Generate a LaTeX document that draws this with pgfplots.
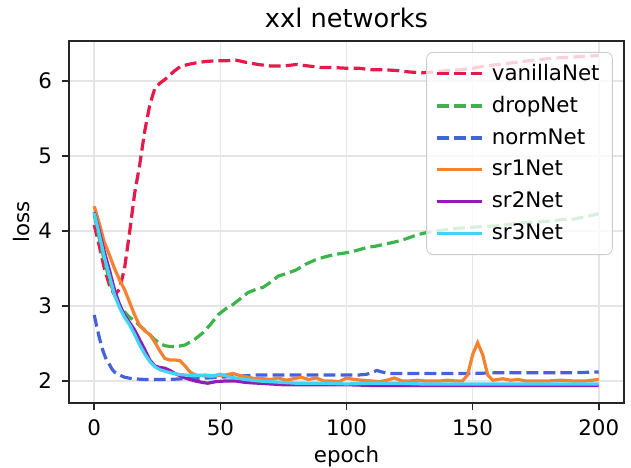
\documentclass[border=0pt]{standalone}
\usepackage{fontspec}
\setmainfont{DejaVu Sans}
\usepackage{pgfplots}
\pgfplotsset{compat=1.18}

\definecolor{cvan}{HTML}{E6194B}
\definecolor{cdrop}{HTML}{3CB44B}
\definecolor{cnorm}{HTML}{4363D8}
\definecolor{csra}{HTML}{F58231}
\definecolor{csrb}{HTML}{911EB4}
\definecolor{csrc}{HTML}{42D4F4}

\begin{document}
\begin{tikzpicture}
\begin{axis}[
    scale only axis,
    width=259.6pt, height=169.3pt,
    xmin=-10, xmax=210, ymin=1.707, ymax=6.533,
    xtick={0,50,100,150,200}, ytick={2,3,4,5,6},
    xtick pos=bottom, ytick pos=left,
    tick align=outside, major tick length=3.5pt,
    axis line style={line width=0.8pt, black!85},
    tick style={line width=0.8pt, black!85},
    grid=major, major grid style={line width=0.8pt, black!10},
    /pgf/number format/assume math mode=true,
    ticklabel style={font=\fontsize{10}{12}\selectfont},
    xticklabel style={yshift=-1pt},
    yticklabel style={xshift=-1pt},
    title={xxl networks},
    every axis title/.style={font=\fontsize{12}{14}\selectfont, at={(0.5,1)}, anchor=base, yshift=6.5pt},
    xlabel={epoch}, ylabel={loss},
    label style={font=\fontsize{10}{12}\selectfont},
    every axis x label/.style={at={(0.5,0)}, anchor=base, yshift=-28pt},
    every axis y label/.style={at={(0,0.5)}, anchor=center, rotate=90, yshift=22pt},
    legend style={at={(0.98,0.97)}, anchor=north east, draw=black!20,
        rounded corners=3pt, fill=white, fill opacity=0.8, text opacity=1,
        font=\fontsize{10}{12}\selectfont, row sep=2pt,
        inner xsep=4pt, inner ysep=3.5pt},
    legend cell align=left,
    legend image code/.code={\draw[#1] (0pt,0pt) -- (21pt,0pt); \path (23pt,0pt);},
    every axis plot/.append style={line width=1.5pt},
    dsh/.style={dash pattern=on 5.55pt off 2.4pt},
]
\addplot[cvan, dsh] coordinates {
(0,4.08)(2,3.8)(4,3.5)(6,3.28)(8,3.15)(10,3.22)(12,3.5)(14,3.98)(16,4.5)(18,4.88)
(20,5.33)(22,5.68)(24,5.9)(26,5.97)(28,6.02)(30,6.08)(32,6.14)(34,6.19)(37,6.22)(40,6.24)
(44,6.26)(48,6.27)(52,6.27)(56,6.28)(60,6.25)(65,6.22)(70,6.2)(75,6.2)(80,6.22)(85,6.2)
(90,6.18)(95,6.18)(100,6.17)(105,6.17)(110,6.15)(115,6.15)(120,6.14)(125,6.12)(130,6.11)
(135,6.12)(140,6.14)(145,6.15)(150,6.17)(155,6.2)(160,6.22)(165,6.24)(170,6.26)(175,6.28)
(180,6.3)(185,6.31)(190,6.32)(195,6.33)(200,6.34)};
\addlegendentry{vanillaNet}
\addplot[cdrop, dsh] coordinates {
(0,4.22)(2,3.9)(4,3.6)(6,3.35)(8,3.15)(10,3.02)(12,2.92)(14,2.85)(16,2.8)(18,2.74)
(20,2.68)(22,2.62)(24,2.55)(26,2.5)(28,2.47)(30,2.46)(33,2.46)(36,2.48)(40,2.56)(43,2.64)
(46,2.75)(49,2.88)(52,2.96)(55,3.02)(58,3.1)(61,3.18)(64,3.22)(67,3.25)(70,3.32)(73,3.4)
(76,3.43)(80,3.48)(84,3.56)(88,3.62)(92,3.66)(96,3.69)(100,3.71)(104,3.74)(108,3.78)
(112,3.8)(116,3.83)(120,3.86)(124,3.9)(128,3.95)(132,3.98)(136,4.0)(140,4.02)(145,4.04)
(150,4.05)(155,4.06)(160,4.07)(165,4.09)(170,4.11)(175,4.12)(180,4.13)(185,4.15)
(190,4.16)(195,4.19)(200,4.23)};
\addlegendentry{dropNet}
\addplot[cnorm, dsh] coordinates {
(0,2.88)(1,2.72)(2,2.58)(3,2.45)(4,2.35)(5,2.27)(6,2.22)(7,2.16)(8,2.12)(10,2.08)
(12,2.05)(15,2.03)(20,2.02)(25,2.02)(30,2.02)(35,2.03)(40,2.03)(45,2.04)(50,2.05)
(55,2.06)(60,2.07)(65,2.08)(70,2.08)(75,2.08)(80,2.08)(85,2.08)(90,2.08)(95,2.08)
(100,2.08)(105,2.08)(108,2.09)(110,2.11)(112,2.14)(114,2.12)(117,2.1)(120,2.1)
(130,2.1)(140,2.1)(150,2.1)(160,2.11)(170,2.11)(180,2.11)(190,2.11)(200,2.12)};
\addlegendentry{normNet}
\addplot[csra] coordinates {
(0,4.33)(2,4.1)(4,3.85)(6,3.68)(8,3.5)(10,3.35)(12,3.22)(14,3.05)(16,2.88)(18,2.74)
(20,2.67)(22,2.62)(24,2.52)(26,2.4)(28,2.3)(30,2.28)(32,2.28)(34,2.27)(36,2.2)(38,2.12)
(40,2.08)(43,2.07)(46,2.06)(49,2.07)(52,2.08)(55,2.1)(58,2.07)(61,2.05)(64,2.03)(67,2.03)
(70,2.02)(73,2.04)(76,2.01)(79,2.03)(82,2.05)(85,2.02)(88,2.04)(91,2.0)(94,2.0)(97,1.99)
(100,2.04)(103,2.02)(106,2.01)(110,2.0)(113,1.99)(116,2.01)(119,2.04)(122,2.0)(125,2.0)
(128,2.01)(131,2.0)(134,2.0)(137,2.0)(140,2.01)(143,2.0)(146,2.0)(148,2.08)(150,2.35)
(152,2.51)(154,2.35)(156,2.08)(158,2.01)(160,2.02)(162,2.03)(165,2.01)(168,2.02)
(171,2.0)(175,2.0)(180,2.0)(185,2.01)(190,2.0)(195,2.0)(200,2.02)};
\addlegendentry{sr1Net}
\addplot[csrb] coordinates {
(0,4.25)(2,4.0)(4,3.72)(6,3.48)(8,3.22)(10,3.02)(12,2.88)(14,2.78)(16,2.68)(18,2.55)
(20,2.42)(22,2.28)(24,2.2)(26,2.18)(28,2.17)(30,2.14)(32,2.1)(34,2.07)(36,2.04)(38,2.02)
(40,2.0)(43,1.98)(45,1.97)(48,1.99)(52,2.0)(56,2.0)(60,1.98)(65,1.97)(70,1.96)(75,1.95)
(80,1.95)(85,1.95)(90,1.95)(100,1.95)(110,1.94)(120,1.94)(130,1.94)(140,1.94)(150,1.94)
(160,1.94)(170,1.94)(180,1.94)(190,1.94)(200,1.94)};
\addlegendentry{sr2Net}
\addplot[csrc] coordinates {
(0,4.24)(2,3.95)(4,3.65)(6,3.4)(8,3.15)(10,2.98)(12,2.85)(14,2.75)(16,2.62)(18,2.48)
(20,2.36)(22,2.26)(24,2.19)(26,2.15)(28,2.13)(30,2.11)(33,2.09)(36,2.08)(40,2.07)
(44,2.08)(47,2.07)(50,2.09)(53,2.06)(56,2.04)(60,2.02)(65,2.0)(70,1.99)(75,1.98)
(80,1.97)(90,1.97)(100,1.96)(110,1.97)(120,1.97)(130,1.96)(140,1.96)(150,1.96)
(160,1.96)(170,1.96)(180,1.96)(190,1.96)(200,1.96)};
\addlegendentry{sr3Net}
\end{axis}
\pgfresetboundingbox
\path ([shift={(-32.3pt,-30.4pt)}]current axis.south west)
  rectangle ([shift={(3.3pt,19.2pt)}]current axis.north east);
\end{tikzpicture}
\end{document}
